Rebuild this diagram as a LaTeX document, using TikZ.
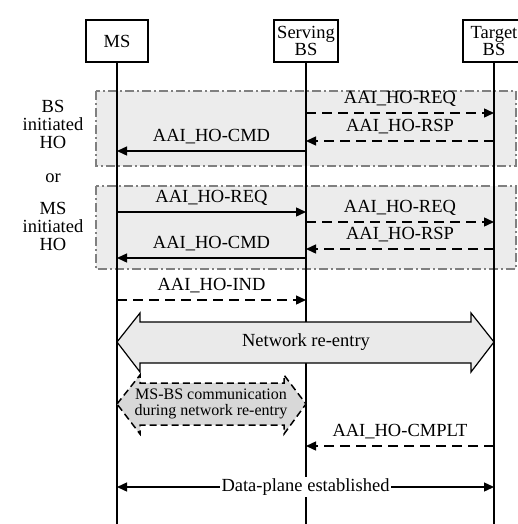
\documentclass[tikz,border=0pt]{standalone}
\usepackage{fontspec}
\setmainfont{Liberation Serif}
\usetikzlibrary{arrows.meta,positioning}
\definecolor{PhaseFill}{HTML}{ECECEC}
\definecolor{PhaseEdge}{HTML}{808080}
\definecolor{ReentryFill}{HTML}{EAEAEA}
\definecolor{CommFill}{HTML}{D8D8D8}

\begin{document}
\begin{tikzpicture}[x=1pt, y=-1pt,
  entity/.style={draw, line width=1.4pt, minimum width=62pt, minimum height=42pt,
                 inner sep=1pt, align=center, font=\fontsize{18.5}{17}\selectfont},
  life/.style={line width=1.4pt},
  phase/.style={draw=PhaseEdge, fill=PhaseFill, line width=1.2pt,
                dash pattern=on 9pt off 3pt on 2pt off 3pt},
  smsg/.style={-{Triangle[length=10pt,width=9pt]}, line width=1.4pt},
  dmsg/.style={smsg, dash pattern=on 10pt off 6pt},
  lbl/.style={anchor=base, yshift=9.5pt, inner sep=0pt, font=\fontsize{18.5}{20}\selectfont},
  side/.style={align=center, inner sep=0pt, font=\fontsize{18.5}{18}\selectfont}
]
\useasboundingbox (0,0) rectangle (518,524);
\clip (0,0) rectangle (518,524);

% handover phases
\draw[phase] (96,91) rectangle (516,166);
\draw[phase] (96,186) rectangle (516,269);

% entities and lifelines
\node[entity] (ms) at (117,41) {MS};
\node[entity, minimum width=64pt] (sbs) at (306,41) {Serving\\BS};
\node[entity] (tbs) at (494,41) {Target\\BS};
\coordinate (msEnd) at (ms |- 0,524);
\coordinate (sbsEnd) at (sbs |- 0,524);
\coordinate (tbsEnd) at (tbs |- 0,524);
\draw[life] (ms) -- (msEnd);
\draw[life] (sbs) -- (sbsEnd);
\draw[life] (tbs) -- (tbsEnd);

% side labels
\node[side] (bsho) at (53,124) {BS\\initiated\\HO};
\node[side] (orho) at (53,178) {or};
\node[side] (msho) at (53,226) {MS\\initiated\\HO};

% BS initiated HO
\draw[dmsg] (sbs |- 0,113) -- node[lbl] {AAI\_HO-REQ} (tbs |- 0,113);
\draw[dmsg] (tbs |- 0,141) -- node[lbl] {AAI\_HO-RSP} (sbs |- 0,141);
\draw[smsg] (sbs |- 0,151) -- node[lbl] {AAI\_HO-CMD} (ms |- 0,151);

% MS initiated HO
\draw[smsg] (ms |- 0,212) -- node[lbl] {AAI\_HO-REQ} (sbs |- 0,212);
\draw[dmsg] (sbs |- 0,222) -- node[lbl] {AAI\_HO-REQ} (tbs |- 0,222);
\draw[dmsg] (tbs |- 0,249) -- node[lbl] {AAI\_HO-RSP} (sbs |- 0,249);
\draw[smsg] (sbs |- 0,258) -- node[lbl] {AAI\_HO-CMD} (ms |- 0,258);
\draw[dmsg] (ms |- 0,300) -- node[lbl] {AAI\_HO-IND} (sbs |- 0,300);

% network re-entry
\draw[line width=1.2pt, fill=ReentryFill]
  (117,342) -- (140,313) -- (140,322) -- (471,322) -- (471,313) -- (494,342)
  -- (471,372) -- (471,363) -- (140,363) -- (140,372) -- cycle;
\node[font=\fontsize{18.5}{20}\selectfont] (reentry) at (306,342) {Network re-entry};

\draw[line width=1.5pt, fill=CommFill, dash pattern=on 7pt off 4pt]
  (117,404) -- (140,375) -- (140,383) -- (284,383) -- (284,375) -- (306,404)
  -- (284,434) -- (284,425) -- (140,425) -- (140,434) -- cycle;
\node[align=center, inner sep=0pt, font=\fontsize{16}{16.5}\selectfont] (comm) at (211,404)
  {MS-BS communication\\during network re-entry};

\draw[dmsg] (tbs |- 0,446) -- node[lbl] {AAI\_HO-CMPLT} (sbs |- 0,446);

% data plane
\draw[{Triangle[length=10pt,width=9pt]}-{Triangle[length=10pt,width=9pt]}, line width=1.4pt]
  (ms |- 0,487) -- node[fill=white, inner sep=2pt, font=\fontsize{18.5}{20}\selectfont] (dplane)
  {Data-plane established} (tbs |- 0,487);
\end{tikzpicture}
\end{document}
